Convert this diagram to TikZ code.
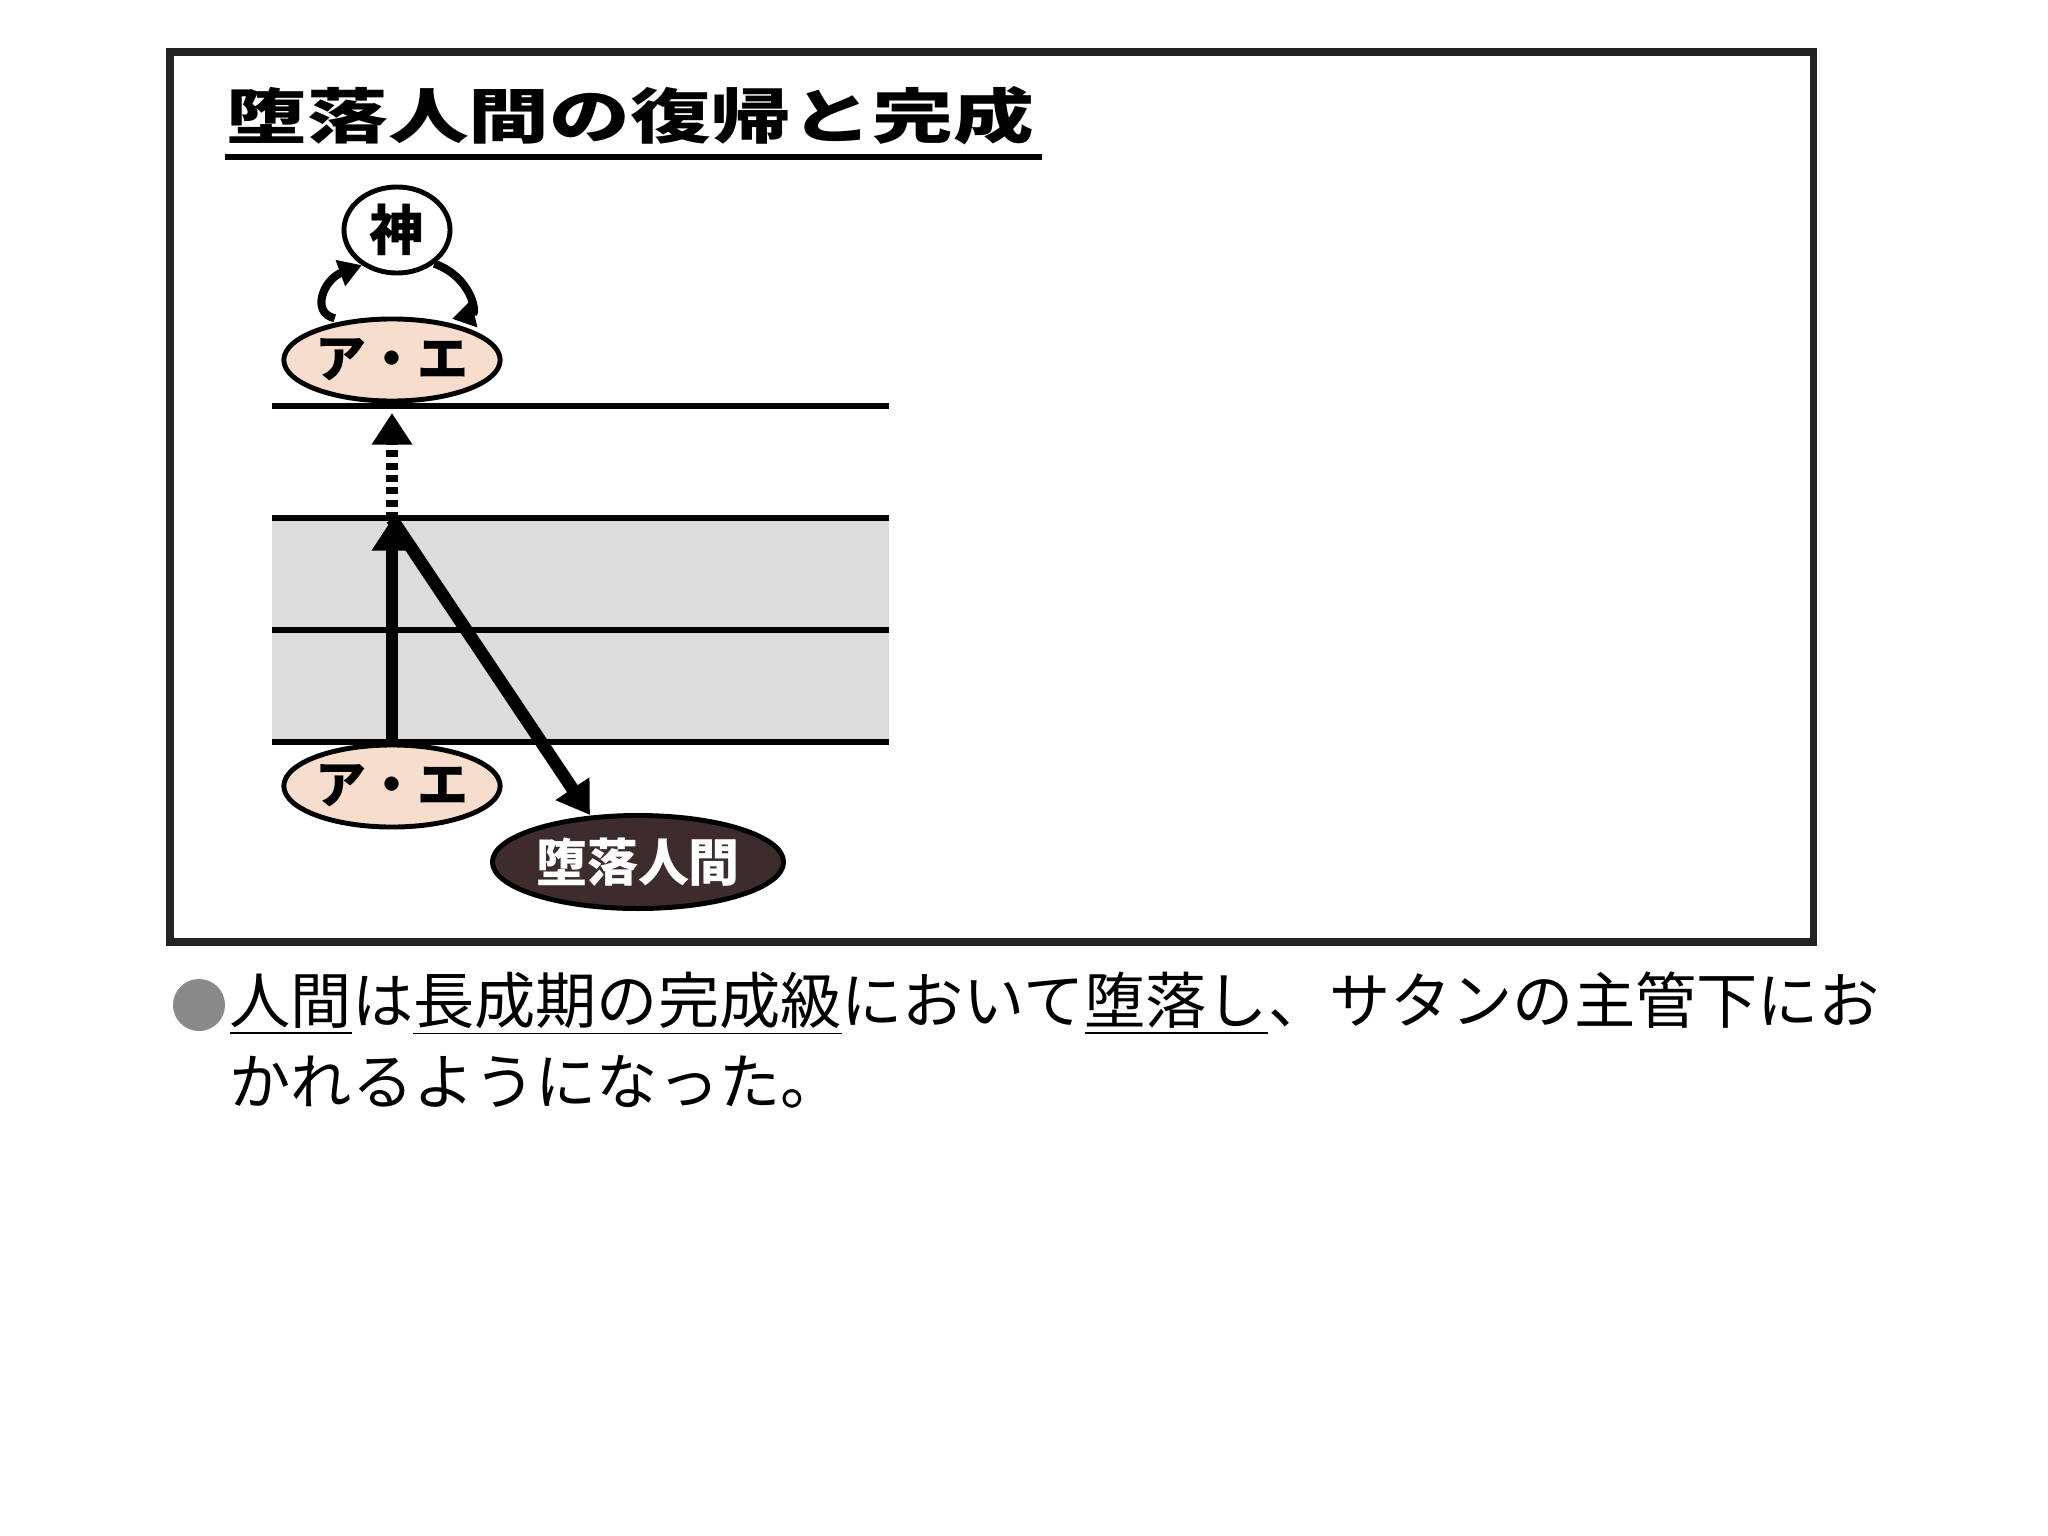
\documentclass[tikz,border=0pt]{standalone}
\usepackage{fontspec}
\usepackage{tikz}
\usetikzlibrary{positioning,shapes.geometric,arrows.meta}

\newfontfamily\jpfont{Noto Sans CJK JP}
\newfontfamily\jptitle{Noto Sans CJK JP}[FakeStretch=1.35]

\definecolor{peach}{RGB}{247,221,204}
\definecolor{fallenbrown}{RGB}{62,44,44}
\definecolor{bandgray}{RGB}{220,220,220}
\definecolor{bulletgray}{RGB}{138,138,138}
\definecolor{framegray}{RGB}{34,34,34}

\begin{document}
\begin{tikzpicture}[
    x=0.01cm, y=-0.01cm,
    person/.style={
        ellipse,
        draw,
        line width=1.4pt,
        fill=peach,
        minimum width=2.13cm,
        minimum height=0.82cm,
        inner sep=0pt,
        font=\fontsize{14.5}{14.5}\jpfont\bfseries
    },
    god/.style={
        ellipse,
        draw,
        line width=1.4pt,
        fill=white,
        minimum width=1.06cm,
        minimum height=0.86cm,
        inner sep=0pt,
        font=\fontsize{15.5}{15.5}\jpfont\bfseries
    },
    fallen/.style={
        ellipse,
        draw,
        line width=1.4pt,
        fill=fallenbrown,
        text=white,
        minimum width=2.91cm,
        minimum height=0.93cm,
        inner sep=0pt,
        font=\fontsize{14.5}{14.5}\jpfont\bfseries
    },
    level/.style={
        line width=1.9pt
    },
    growth/.style={
        line width=3.6pt,
        -{Triangle[length=9pt,width=11pt]}
    },
    cycle/.style={
        line width=2.3pt,
        -{Triangle[length=6.5pt,width=7.5pt]}
    }
]

\fill[white] (0,0) rectangle (2048,1536);
\useasboundingbox (0,0) rectangle (2048,1536);

% Frame and title
\draw[framegray, line width=2pt] (170,52) rectangle (1813,942);
\node[anchor=west, inner sep=0pt, font=\fontsize{17}{17}\jptitle\bfseries] (title) at (226,116) {堕落人間の復帰と完成};
\draw[line width=1.6pt] (225,157) -- (1042,157);

% Levels
\fill[bandgray] (272,518) rectangle (889,742);
\foreach \y in {406,518,630,742}
    \draw[level] (272,\y) -- (889,\y);

% Nodes
\node[god] (god) at (397,230) {神};
\node[person] (ae-top) at (392,360) {ア・エ};
\node[person] (ae-bottom) at (392,786) {ア・エ};
\node[fallen] (fallen) at (638,862) {堕落人間};

\coordinate (peak) at (392,519);
\coordinate (gap) at (392,413);
\coordinate (fall-end) at (590,815);

% Arrows
\draw[growth] (ae-bottom.north) -- (peak);
\draw[growth, dash pattern=on 2pt off 1.5pt] (peak) -- (gap);
\draw[growth] (peak) -- (fall-end);

\draw[cycle, shorten <=3pt] (ae-top.140) .. controls +(-35,-8) and +(-38,14) .. (god.225);
\draw[cycle, shorten >=3pt] (god.318) .. controls +(38,14) and +(35,-8) .. (ae-top.38);

% Caption
\node[circle, fill=bulletgray, minimum size=0.52cm, inner sep=0pt] (bullet) at (199,1005) {};
\node[anchor=base west, inner sep=0pt, font=\fontsize{17.4}{17.4}\jpfont] (caption-1) at (229,1023)
    {\underline{人間}は\underline{長成期の完成級}において\underline{堕落し}、サタンの主管下にお};
\node[anchor=base west, inner sep=0pt, font=\fontsize{17.4}{17.4}\jpfont] (caption-2) at (229,1104)
    {かれるようになった。};

\end{tikzpicture}
\end{document}
